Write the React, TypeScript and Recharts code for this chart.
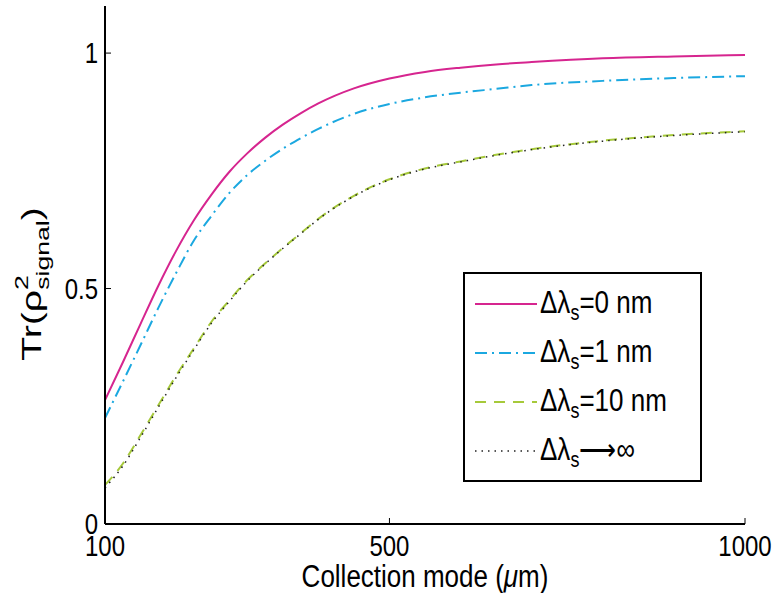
import React from 'react';
import { LineChart, Line, XAxis, YAxis, Legend, Label } from 'recharts';

const FONT = '"Liberation Sans", Arial, Helvetica, sans-serif';

// Collection mode (µm)
const modes = [100, 125, 150, 175, 200, 225, 250, 275, 300, 325, 350, 375, 400, 450, 500, 550, 600, 650, 700, 800, 900, 1000];
// Tr(rho^2_signal) for each filter bandwidth
const purity0nm = [0.263, 0.343, 0.425, 0.506, 0.58, 0.645, 0.7, 0.748, 0.787, 0.82, 0.848, 0.872, 0.893, 0.925, 0.946, 0.96, 0.969, 0.976, 0.981, 0.989, 0.993, 0.996];
const purity1nm = [0.225, 0.302, 0.38, 0.459, 0.533, 0.602, 0.655, 0.703, 0.741, 0.771, 0.797, 0.819, 0.839, 0.871, 0.892, 0.906, 0.916, 0.924, 0.932, 0.941, 0.947, 0.951];
const purity10nm = [0.083, 0.128, 0.189, 0.252, 0.315, 0.373, 0.43, 0.475, 0.518, 0.553, 0.586, 0.617, 0.648, 0.697, 0.732, 0.755, 0.77, 0.784, 0.796, 0.814, 0.826, 0.834];
const purityInf = [0.077, 0.123, 0.184, 0.248, 0.311, 0.37, 0.427, 0.473, 0.516, 0.552, 0.585, 0.616, 0.647, 0.696, 0.731, 0.754, 0.769, 0.783, 0.795, 0.813, 0.825, 0.833];

const xTicks = [100, 500, 1000];
const yTicks = [0, 0.5, 1];
const legendSuffixes = ['=0 nm', '=1 nm', '=10 nm', '\u27f6\u221e'];

const data = modes.map((m, i) => ({
  mode: m,
  d0: purity0nm[i],
  d1: purity1nm[i],
  d10: purity10nm[i],
  dinf: purityInf[i],
}));

const series = [
  { key: 'd0', color: '#d6258f', dash: undefined as string | undefined, width: 2 },
  { key: 'd1', color: '#1ba8e0', dash: '12 5 2 5', width: 2 },
  { key: 'd10', color: '#a6c93a', dash: '11 8', width: 2 },
  { key: 'dinf', color: '#222222', dash: '1.5 5', width: 1.5 },
];

const STRETCH = 1.2;

const XTick = (props: any) => {
  const { x, y, payload } = props;
  return (
    <g transform={`translate(${x},${y}) scale(1,${STRETCH})`}>
      <text x={0} y={0} dy="0.71em" textAnchor="middle" fontFamily={FONT} fontSize={24} fill="#000">
        {payload.value}
      </text>
    </g>
  );
};

const YTick = (props: any) => {
  const { x, y, payload } = props;
  return (
    <g transform={`translate(${x},${y}) scale(1,${STRETCH})`}>
      <text x={0} y={0} dy="0.355em" textAnchor="end" fontFamily={FONT} fontSize={24} fill="#000">
        {payload.value}
      </text>
    </g>
  );
};

const YTitle = () => {
  return (
    <g transform={`translate(41,284) rotate(-90) scale(1.4,1)`}>
      <text x={0} y={0} textAnchor="middle" fontFamily={FONT} fontSize={28} fill="#000">
        Tr(ρ
        <tspan fontSize={19} dy={-13}>2</tspan>
        <tspan fontSize={19} dx={-10.5} dy={21}>signal</tspan>
        <tspan fontSize={28} dy={-8}>)</tspan>
      </text>
    </g>
  );
};

const XTitle = (props: any) => {
  const vb = props.viewBox || {};
  const cx = vb.x + vb.width / 2;
  return (
    <g transform={`translate(${cx},587) scale(1,${STRETCH})`}>
      <text x={0} y={0} textAnchor="middle" fontFamily={FONT} fontSize={26} fill="#000">
        Collection mode (<tspan fontStyle="italic">μ</tspan>m)
      </text>
    </g>
  );
};

const LegendBox = () => (
  <div
    style={{
      width: 239,
      height: 210,
      boxSizing: 'border-box',
      border: '2px solid #000',
      background: '#fff',
      paddingTop: 5,
      fontFamily: FONT,
      fontSize: 26,
      color: '#000',
    }}
  >
    {series.map((s, i) => (
      <div key={s.key} style={{ height: 49, display: 'flex', alignItems: 'center' }}>
        <svg width={75} height={20} style={{ flex: 'none' }}>
          <line
            x1={10}
            y1={10}
            x2={72}
            y2={10}
            stroke={s.color}
            strokeWidth={s.width}
            strokeDasharray={s.dash}
          />
        </svg>
        <span
          style={{
            whiteSpace: 'nowrap',
            lineHeight: '26px',
            display: 'inline-block',
            transform: `scaleY(${STRETCH})`,
          }}
        >
          Δλ
          <span style={{ fontSize: 18, position: 'relative', top: 6 }}>s</span>
          {legendSuffixes[i]}
        </span>
      </div>
    ))}
  </div>
);

export default function App() {
  return (
    <div style={{ position: 'absolute', left: 0, top: 0, background: '#fff' }}>
      <LineChart
        width={776}
        height={593}
        data={data}
        margin={{ top: 6, right: 31, bottom: 9, left: 45 }}
      >
        <XAxis
          dataKey="mode"
          type="number"
          domain={[100, 1000]}
          ticks={xTicks}
          allowDataOverflow
          height={60}
          tickSize={-6}
          tickMargin={18}
          stroke="#000"
          axisLine={{ stroke: '#000', strokeWidth: 2 }}
          tickLine={{ stroke: '#000', strokeWidth: 1 }}
          tick={<XTick />}
          interval={0}
        >
          <Label content={<XTitle />} />
        </XAxis>
        <XAxis
          xAxisId="top"
          orientation="top"
          dataKey="mode"
          type="number"
          domain={[100, 1000]}
          ticks={xTicks}
          allowDataOverflow
          height={0}
          tickSize={-6}
          stroke="#000"
          axisLine={{ stroke: '#000', strokeWidth: 2 }}
          tickLine={{ stroke: '#000', strokeWidth: 1 }}
          tick={false}
          interval={0}
        />
        <YAxis
          type="number"
          domain={[0, 1.1]}
          ticks={yTicks}
          allowDataOverflow
          width={60}
          tickSize={-6}
          tickMargin={13}
          stroke="#000"
          axisLine={{ stroke: '#000', strokeWidth: 2 }}
          tickLine={{ stroke: '#000', strokeWidth: 1 }}
          tick={<YTick />}
          interval={0}
        >
          <Label content={<YTitle />} />
        </YAxis>
        <YAxis
          yAxisId="right"
          orientation="right"
          type="number"
          domain={[0, 1.1]}
          ticks={yTicks}
          allowDataOverflow
          width={0}
          tickSize={-6}
          stroke="#000"
          axisLine={{ stroke: '#000', strokeWidth: 2 }}
          tickLine={{ stroke: '#000', strokeWidth: 1 }}
          tick={false}
          interval={0}
        />
        {series.map((s) => (
          <Line
            key={s.key}
            type="monotone"
            dataKey={s.key}
            stroke={s.color}
            strokeWidth={s.width}
            strokeDasharray={s.dash}
            dot={false}
            activeDot={false}
            isAnimationActive={false}
          />
        ))}
        <Legend
          layout="vertical"
          align="center"
          verticalAlign="middle"
          content={<LegendBox />}
          wrapperStyle={{ position: 'absolute', left: 463, top: 272, width: 239, height: 210 }}
        />
      </LineChart>
    </div>
  );
}
